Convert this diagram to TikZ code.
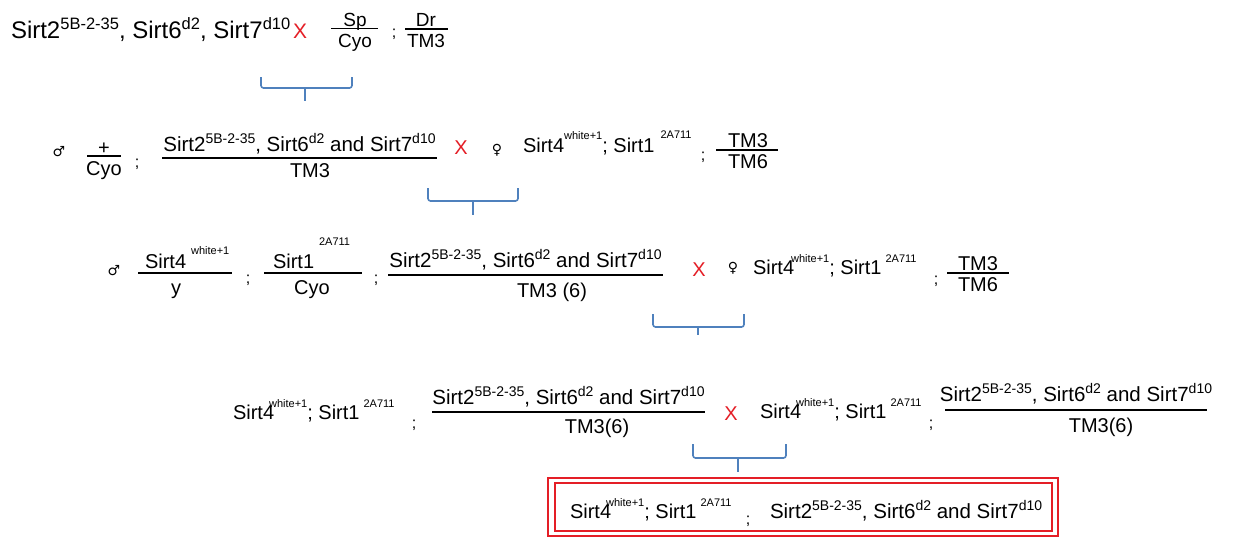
\documentclass[tikz,border=0pt]{standalone}
\usepackage{fontspec}
\setmainfont{Liberation Sans}
\newfontfamily\symfont{DejaVu Sans}
\definecolor{brk}{RGB}{79,129,189}
\definecolor{xred}{RGB}{228,30,38}
\newcommand\rsup[3]{\raisebox{#1pt}{\fontsize{#2}{#2}\selectfont #3}}
\newcommand\supone[1]{\rsup{9}{16.5}{#1}}
\newcommand\suptwo[1]{\rsup{7.5}{14}{#1}}
\newcommand\genotype{{\fontsize{20.5}{20.5}\selectfont Sirt2\suptwo{5B-2-35}, Sirt6\suptwo{d2} and Sirt7\suptwo{d10}}}
\newcommand\gm{{\symfont\fontsize{14}{14}\selectfont ♂}}
\newcommand\gf{{\symfont\fontsize{14}{14}\selectfont ♀}}
\tikzset{
  every node/.style={inner sep=0pt, outer sep=0pt, font=\fontsize{20}{20}\selectfont},
  t/.style={anchor=base west},
  b/.style={anchor=base},
  semi/.style={anchor=base, font=\fontsize{16}{16}\selectfont},
  bar/.style={line width=1.1pt},
  brace/.style={draw=brk, line width=1.6pt, rounded corners=2.5pt},
  xm/.style={text=xred, font=\fontsize{20}{20}\selectfont},
  redbox/.style={draw=xred, line width=2pt}
}
\begin{document}
\begin{tikzpicture}[x=1pt,y=-1pt]
\useasboundingbox (0,0) rectangle (1253,538);
% ---- row 1
\node[t, font=\fontsize{24}{24}\selectfont] (r1) at (11,38) {Sirt2\supone{5B-2-35}, Sirt6\supone{d2}, Sirt7\supone{d10}};
\node[xm, font=\fontsize{21}{21}\selectfont] (x1) at (300,31) {X};
\draw[bar] (331,28.5) -- (378,28.5);
\node[b, font=\fontsize{19}{19}\selectfont] (sp) at (355,26) {Sp};
\node[b, font=\fontsize{19}{19}\selectfont] (cyo1) at (355,47) {Cyo};
\node[semi] (s1) at (394,37) {;};
\draw[bar] (405,29) -- (448,29);
\node[b, font=\fontsize{19}{19}\selectfont] (dr) at (426,26) {Dr};
\node[b, font=\fontsize{19}{19}\selectfont] (tm1) at (426,47) {TM3};
\draw[brace] (261,77) -- (261,88) -- (352,88) -- (352,77);
\draw[brace] (305,88) -- (305,101);
% ---- row 2
\node (m2) at (59,152) {\gm};
\draw[bar] (87,156) -- (121,156);
\node (plus) at (104,149) {+};
\node[b] (cyo2) at (104,175) {Cyo};
\node[semi] (s2a) at (137,167) {;};
\draw[bar] (162,158) -- (437,158);
\node[b] (g2) at (299.5,151) {\genotype};
\node[b] (tm2) at (310,177) {TM3};
\node[xm] (x2) at (461,148) {X};
\node (f2) at (497,150) {\gf};
\node[t] (w2) at (523,152) {Sirt4\rsup{13}{11}{white+1}; Sirt1\hspace{6pt}\rsup{14}{11}{2A711}};
\node[semi] (s2b) at (703,160) {;};
\draw[bar] (716,150) -- (778,150);
\node[b] (tm3a) at (748,147) {TM3};
\node[b] (tm6a) at (748,168) {TM6};
\draw[brace] (428,188) -- (428,201) -- (518,201) -- (518,188);
\draw[brace] (473,201) -- (473,215);
% ---- row 3
\node (m3) at (114,271) {\gm};
\draw[bar] (138,273) -- (232,273);
\node[t] (n3a) at (145,268) {Sirt4\hspace{5pt}\rsup{14}{11}{white+1}};
\node[b] (y3) at (176,294) {y};
\node[semi] (s3a) at (248,283) {;};
\draw[bar] (264,273) -- (362,273);
\node[t] (n3b) at (273,268) {Sirt1\hspace{5pt}\rsup{23}{11}{2A711}};
\node[b] (cyo3) at (312,294) {Cyo};
\node[semi] (s3b) at (376,283) {;};
\draw[bar] (388,275) -- (663,275);
\node[b] (g3) at (525.5,267) {\genotype};
\node[b] (tm3b) at (552,297) {TM3 (6)};
\node[xm] (x3) at (699,270) {X};
\node (f3) at (733,268) {\gf};
\node[t] (w3) at (753,274) {Sirt4\hspace{-3pt}\rsup{12}{11}{white+1}; Sirt1\hspace{4pt}\rsup{12}{11}{2A711}};
\node[semi] (s3c) at (936,284) {;};
\draw[bar] (947,273) -- (1009,273);
\node[b] (tm3c) at (978,270) {TM3};
\node[b] (tm6c) at (978,291) {TM6};
\draw[brace] (653,314) -- (653,327) -- (744,327) -- (744,314);
\draw[brace] (698,327) -- (698,335);
% ---- row 4
\node[t] (w4a) at (233,419) {Sirt4\hspace{-5pt}\rsup{12}{11}{white+1}; Sirt1\hspace{4pt}\rsup{12}{11}{2A711}};
\node[semi] (s4a) at (414,428) {;};
\draw[bar] (432,412) -- (705,412);
\node[b] (g4a) at (568.5,404) {\genotype};
\node[b] (tm4a) at (597,433) {TM3(6)};
\node[xm] (x4) at (731,414) {X};
\node[t] (w4b) at (760,418) {Sirt4\hspace{-5pt}\rsup{12}{11}{white+1}; Sirt1\hspace{4pt}\rsup{12}{11}{2A711}};
\node[semi] (s4b) at (931,428) {;};
\draw[bar] (945,410) -- (1207,410);
\node[b] (g4b) at (1076,401) {\genotype};
\node[b] (tm4b) at (1101,432) {TM3(6)};
\draw[brace] (693,444) -- (693,458) -- (786,458) -- (786,444);
\draw[brace] (738,458) -- (738,472);
% ---- result box
\draw[redbox] (548,478) rectangle (1058,536);
\draw[redbox] (555,483) rectangle (1052,531);
\node[t] (w5) at (570,518) {Sirt4\hspace{-5pt}\rsup{12}{11}{white+1}; Sirt1\hspace{4pt}\rsup{12}{11}{2A711}};
\node[semi] (s5) at (748,524) {;};
\node[t] (g5) at (770,518) {\genotype};
\end{tikzpicture}
\end{document}
